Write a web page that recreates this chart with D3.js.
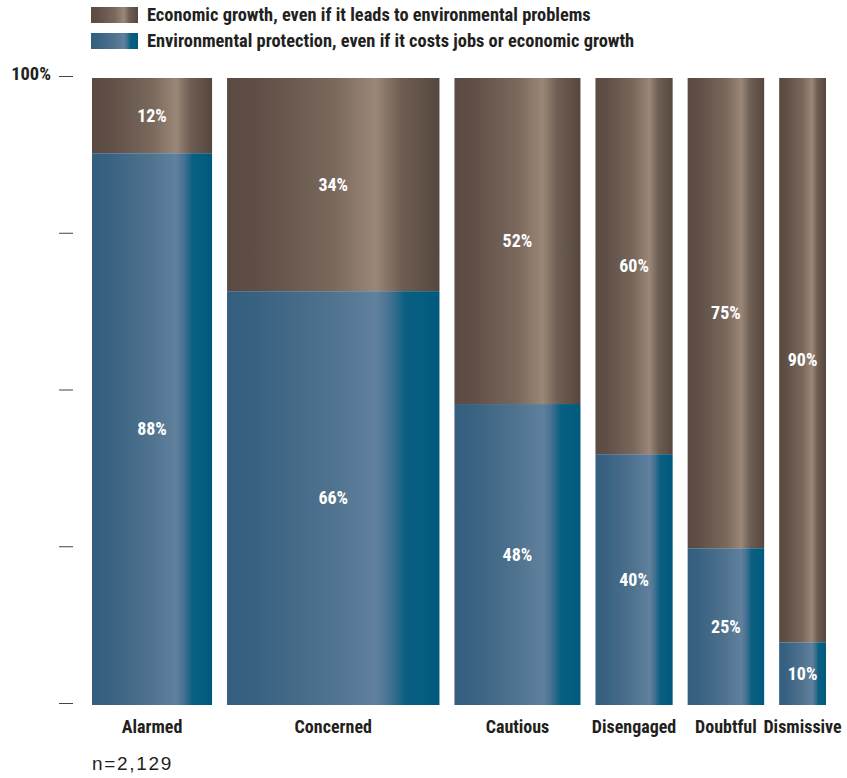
<!DOCTYPE html>
<html><head><meta charset="utf-8">
<script src="https://cdn.jsdelivr.net/npm/d3@7"></script>
<style>
body{margin:0;background:#fff;}
svg{display:block;}
.cond{font-family:"Roboto Condensed",Roboto,sans-serif;font-stretch:condensed;font-weight:bold;}
</style></head>
<body><svg id="c" width="847" height="778"></svg>
<script>
const categories = ["Alarmed","Concerned","Cautious","Disengaged","Doubtful","Dismissive"];
const shares = [18.2, 32.2, 19.1, 11.7, 11.6, 7.1];
const protection = [88, 66, 48, 40, 25, 10];
const growth = [12, 34, 52, 60, 75, 90];
const seriesNames = ["Economic growth, even if it leads to environmental problems",
                     "Environmental protection, even if it costs jobs or economic growth"];
const yTicks = [0, 25, 50, 75, 100];
const note = "n=2,129";

const svg = d3.select("#c");
const defs = svg.append("defs");
function grad(id, stops){
  const g = defs.append("linearGradient").attr("id", id).attr("x1","0%").attr("x2","100%").attr("y1","0%").attr("y2","0%");
  stops.forEach(s => g.append("stop").attr("offset", s[0]).attr("stop-color", s[1]));
}
grad("gBrown", [["0%","#5a4a41"],["15%","#5f4f46"],["50%","#7a685c"],["70%","#9a8778"],["82%","#6e5d52"],["100%","#56473e"]]);
grad("gBlue", [["0%","#335e7d"],["15%","#396282"],["50%","#50738f"],["70%","#5f819d"],["76%","#4a7393"],["84%","#0a5f81"],["100%","#005a7d"]]);

const left = 92, gap = 15, plotW = 734 - gap*(categories.length-1);
const y = d3.scaleLinear().domain([0,100]).range([705,78]);
const w = d3.scaleLinear().domain([0, d3.sum(shares)]).range([0, plotW]);
const cum = d3.cumsum(shares);
const x0 = categories.map((c,i) => left + w(cum[i]-shares[i]) + gap*i);
const bw = shares.map(s => w(s));

const data = categories.map((c,i)=>({c, x:x0[i], w:bw[i], p:protection[i], g:growth[i]}));

const bars = svg.append("g").selectAll("g").data(data).join("g");
bars.append("rect").attr("x",d=>d.x).attr("width",d=>d.w)
  .attr("y",d=>y(100)).attr("height",d=>y(d.p)-y(100)).attr("fill","url(#gBrown)");
bars.append("rect").attr("x",d=>d.x).attr("width",d=>d.w)
  .attr("y",d=>y(d.p)).attr("height",d=>y(0)-y(d.p)).attr("fill","url(#gBlue)");
bars.append("text").attr("class","cond").attr("x",d=>d.x+d.w/2).attr("y",d=>(y(100)+y(d.p))/2)
  .attr("dy","0.35em").attr("text-anchor","middle").attr("fill","#fff").attr("font-size",18)
  .text(d=>d.g+"%");
bars.append("text").attr("class","cond").attr("x",d=>d.x+d.w/2).attr("y",d=>(y(d.p)+y(0))/2)
  .attr("dy","0.35em").attr("text-anchor","middle").attr("fill","#fff").attr("font-size",18)
  .text(d=>d.p+"%");
bars.append("text").attr("class","cond").attr("x",d=>d.x+d.w/2).attr("y",733)
  .attr("text-anchor","middle").attr("fill","#231f20").attr("font-size",18)
  .text(d=>d.c);

// axis
const axis = d3.axisLeft(y).tickValues(yTicks).tickSize(14).tickPadding(8)
  .tickFormat(v => v===100 ? "100%" : "");
const ag = svg.append("g").attr("transform","translate(73,-2)").call(axis);
ag.select(".domain").remove();
ag.selectAll("line").attr("stroke","#444");
ag.selectAll("text").attr("class","cond").attr("font-size",18.5).attr("fill","#231f20").attr("dy","0").attr("y",3);

// legend
const lg = svg.append("g");
const fills = ["url(#gBrown)","url(#gBlue)"];
seriesNames.forEach((n,i)=>{
  lg.append("rect").attr("x",91).attr("y",7+26*i).attr("width",47).attr("height",16).attr("fill",fills[i]);
  lg.append("text").attr("class","cond").attr("x",147).attr("y",21+26*i).attr("font-size",18.4).attr("fill","#231f20").text(n);
});

svg.append("text").attr("x",92).attr("y",770).attr("font-family","'Liberation Sans',Arial,sans-serif")
  .attr("font-size",19).attr("fill","#231f20").attr("letter-spacing","1.7").text(note);
</script></body></html>
